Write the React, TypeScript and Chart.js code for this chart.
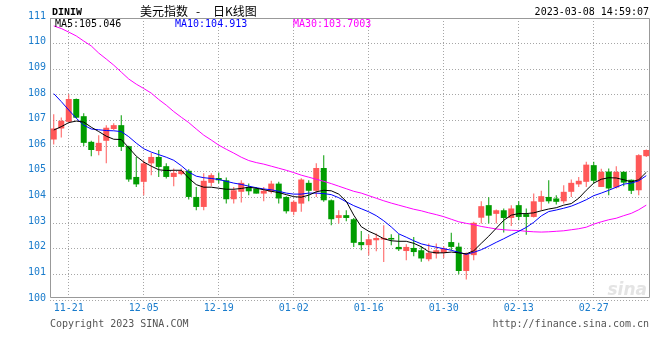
import React, { useEffect, useRef } from 'react';
import { Chart, registerables } from 'chart.js';

Chart.register(...registerables);

// ---- data ----
const dates = [
  '11-17', '11-18', '11-21', '11-22', '11-23', '11-24', '11-25', '11-28', '11-29', '11-30',
  '12-01', '12-02', '12-05', '12-06', '12-07', '12-08', '12-09', '12-12', '12-13', '12-14',
  '12-15', '12-16', '12-19', '12-20', '12-21', '12-22', '12-23', '12-26', '12-27', '12-28',
  '12-29', '12-30', '01-02', '01-03', '01-04', '01-05', '01-06', '01-09', '01-10', '01-11',
  '01-12', '01-13', '01-16', '01-17', '01-18', '01-19', '01-20', '01-23', '01-24', '01-25',
  '01-26', '01-27', '01-30', '01-31', '02-01', '02-02', '02-03', '02-06', '02-07', '02-08',
  '02-09', '02-10', '02-13', '02-14', '02-15', '02-16', '02-17', '02-20', '02-21', '02-22',
  '02-23', '02-24', '02-27', '02-28', '03-01', '03-02', '03-03', '03-06', '03-07', '03-08',
];

const openP = [
  106.26, 106.69, 106.95, 107.84, 107.17, 106.17, 105.81, 106.21, 106.67, 106.82,
  106.00, 104.80, 104.61, 105.33, 105.58, 105.22, 104.80, 104.91, 105.04, 104.02,
  103.63, 104.57, 104.76, 104.67, 103.93, 104.22, 104.41, 104.35, 104.15, 104.22,
  104.54, 104.02, 103.44, 103.76, 104.57, 104.26, 105.15, 103.89, 103.20, 103.31,
  103.15, 102.26, 102.14, 102.33, 102.36, 102.42, 102.07, 101.91, 102.03, 101.94,
  101.59, 101.81, 101.84, 102.26, 102.08, 101.13, 101.75, 103.21, 103.70, 103.36,
  103.50, 103.20, 103.70, 103.35, 103.24, 103.83, 104.02, 103.96, 103.85, 104.22,
  104.51, 104.61, 105.26, 104.41, 105.01, 104.39, 105.00, 104.69, 104.28, 105.61,
];
const highP = [
  107.25, 107.12, 108.03, 107.86, 107.28, 106.21, 106.43, 106.82, 106.89, 107.21,
  106.02, 105.58, 105.45, 105.73, 105.85, 105.33, 105.13, 105.13, 105.10, 104.41,
  104.94, 104.94, 104.97, 104.78, 104.41, 104.67, 104.54, 104.41, 104.41, 104.65,
  104.61, 104.05, 103.89, 104.75, 104.67, 105.33, 105.65, 103.92, 103.50, 103.50,
  103.20, 102.69, 102.55, 102.59, 102.92, 102.56, 102.56, 102.17, 102.46, 102.10,
  102.20, 102.20, 102.10, 102.62, 102.23, 101.85, 103.05, 103.85, 104.01, 103.53,
  103.57, 103.70, 103.85, 103.57, 104.15, 104.26, 104.67, 104.09, 104.48, 104.70,
  104.80, 105.39, 105.39, 105.12, 105.13, 105.22, 105.02, 104.70, 105.69, 105.87,
];
const lowP = [
  106.07, 106.34, 106.93, 107.09, 106.01, 105.61, 105.65, 105.33, 106.63, 105.81,
  104.61, 104.41, 104.09, 104.87, 104.80, 104.74, 104.44, 104.87, 103.92, 103.50,
  103.50, 104.44, 104.54, 103.76, 103.76, 103.80, 104.09, 104.15, 103.85, 104.15,
  103.76, 103.37, 103.31, 103.44, 103.85, 104.02, 103.83, 102.92, 102.98, 103.07,
  102.07, 101.94, 101.75, 101.90, 101.48, 102.14, 101.91, 101.55, 101.71, 101.49,
  101.51, 101.62, 101.64, 101.94, 101.00, 100.80, 101.55, 102.98, 102.98, 102.98,
  102.63, 102.89, 103.11, 102.55, 103.22, 103.50, 103.76, 103.73, 103.76, 104.02,
  104.41, 104.41, 104.54, 104.41, 104.09, 104.35, 104.44, 104.13, 104.09, 105.58,
];
const closeP = [
  106.69, 106.99, 107.84, 107.11, 106.13, 105.85, 106.13, 106.72, 106.82, 105.97,
  104.70, 104.51, 105.33, 105.58, 105.19, 104.80, 104.96, 105.04, 104.02, 103.63,
  104.65, 104.87, 104.67, 103.93, 104.28, 104.57, 104.24, 104.15, 104.26, 104.54,
  103.96, 103.46, 103.83, 104.70, 104.26, 105.15, 103.89, 103.15, 103.31, 103.20,
  102.23, 102.14, 102.37, 102.42, 102.42, 102.36, 101.98, 102.07, 101.87, 101.62,
  101.84, 101.94, 102.01, 102.07, 101.13, 101.82, 103.01, 103.66, 103.29, 103.50,
  103.20, 103.57, 103.24, 103.24, 103.85, 104.05, 103.85, 103.83, 104.22, 104.57,
  104.65, 105.28, 104.65, 105.00, 104.35, 105.00, 104.58, 104.26, 105.65, 105.85,
];

const ma5 = [
  106.63, 106.76, 106.92, 106.98, 106.94, 106.74, 106.57, 106.39, 106.27, 106.26,
  105.94, 105.61, 105.38, 105.22, 105.08, 105.05, 105.06, 105.06, 104.75, 104.50,
  104.40, 104.40, 104.36, 104.32, 104.32, 104.35, 104.40, 104.36, 104.30, 104.24,
  104.19, 104.11, 104.03, 104.01, 104.09, 104.22, 104.28, 104.26, 104.13, 103.85,
  103.31, 102.86, 102.68, 102.55, 102.39, 102.31, 102.29, 102.29, 102.21, 102.08,
  101.88, 101.84, 101.84, 101.87, 101.84, 101.80, 101.92, 102.21, 102.49, 102.80,
  103.11, 103.31, 103.37, 103.37, 103.40, 103.48, 103.55, 103.60, 103.70, 103.76,
  103.97, 104.28, 104.56, 104.71, 104.77, 104.76, 104.69, 104.61, 104.69, 104.98,
];
const ma10 = [
  108.05, 107.74, 107.41, 107.09, 106.82, 106.67, 106.64, 106.61, 106.60, 106.57,
  106.37, 106.12, 105.90, 105.77, 105.67, 105.57, 105.45, 105.24, 104.99, 104.83,
  104.77, 104.74, 104.70, 104.63, 104.56, 104.51, 104.44, 104.38, 104.33, 104.30,
  104.24, 104.17, 104.13, 104.13, 104.17, 104.17, 104.15, 104.11, 103.99, 103.83,
  103.68, 103.56, 103.44, 103.29, 103.09, 102.85, 102.58, 102.45, 102.31, 102.19,
  102.12, 102.06, 102.00, 101.94, 101.86, 101.78, 101.86, 101.96, 102.10, 102.25,
  102.39, 102.54, 102.68, 102.83, 103.03, 103.28, 103.45, 103.51, 103.58, 103.66,
  103.78, 103.91, 104.07, 104.17, 104.28, 104.40, 104.52, 104.56, 104.65, 104.85,
];
const ma30 = [
  110.69, 110.59, 110.45, 110.30, 110.10, 109.91, 109.63, 109.40, 109.16, 108.89,
  108.62, 108.42, 108.25, 108.07, 107.82, 107.60, 107.35, 107.13, 106.92, 106.67,
  106.43, 106.24, 106.04, 105.88, 105.73, 105.57, 105.44, 105.36, 105.30, 105.22,
  105.14, 105.06, 104.97, 104.87, 104.79, 104.71, 104.63, 104.54, 104.44, 104.34,
  104.24, 104.17, 104.07, 103.97, 103.87, 103.78, 103.70, 103.62, 103.54, 103.48,
  103.40, 103.33, 103.25, 103.15, 103.05, 102.99, 102.94, 102.87, 102.82, 102.77,
  102.74, 102.72, 102.71, 102.68, 102.66, 102.65, 102.66, 102.68, 102.70, 102.74,
  102.78, 102.84, 102.96, 103.05, 103.13, 103.19, 103.29, 103.38, 103.52, 103.70,
];

const tickDates = ['11-21', '12-05', '12-19', '01-02', '01-16', '01-30', '02-13', '02-27'];
const yMin = 100;
const yMax = 111;

const symbolText = 'DINIW';
const titleParts = ['美元指数', '-', '日K线图'];
const timeText = '2023-03-08 14:59:07';
const maLabels = ['MA5:105.046', 'MA10:104.913', 'MA30:103.7003'];
const copyrightText = 'Copyright 2023 SINA.COM';
const urlText = 'http://finance.sina.com.cn';

// ---- styles ----
const UP = '#ff5858';
const DOWN = '#009c00';
const AXIS_TXT = '#1a7ccc';
const GRID = '#a6a6a6';
const FRAME = '#999999';
const MA_COLORS = ['#000000', '#0000ff', '#ff00ff'];
const MONO = '"DejaVu Sans Mono", "Liberation Mono", monospace';

const candleColors = closeP.map((c, i) => (c >= openP[i] ? UP : DOWN));

const framePlugin = {
  id: 'sinaFrame',
  beforeDatasetsDraw(chart: any) {
    const { ctx, chartArea } = chart;
    const { left, right, top, bottom } = chartArea;
    ctx.save();
    // watermark
    ctx.font = 'italic bold 17px "DejaVu Sans", sans-serif';
    ctx.fillStyle = '#e4e4e4';
    ctx.textAlign = 'right';
    ctx.textBaseline = 'alphabetic';
    ctx.fillText('sina', right - 3, bottom - 5);
    // frame
    ctx.strokeStyle = FRAME;
    ctx.lineWidth = 1;
    const b = bottom - 3;
    ctx.beginPath();
    ctx.moveTo(left + 0.5, b + 0.5);
    ctx.lineTo(left + 0.5, top + 0.5);
    ctx.lineTo(right - 0.5, top + 0.5);
    ctx.lineTo(right - 0.5, b + 0.5);
    ctx.lineTo(left + 0.5, b + 0.5);
    ctx.stroke();
    ctx.restore();
  },
  afterDraw(chart: any) {
    const { ctx, chartArea } = chart;
    const { left, right } = chartArea;
    ctx.save();
    ctx.textBaseline = 'alphabetic';
    ctx.textAlign = 'left';
    ctx.fillStyle = '#000';
    ctx.font = 'bold 10px "Liberation Mono", monospace';
    ctx.fillText(symbolText, 52, 15);
    ctx.font = '12px "Noto Sans CJK SC", sans-serif';
    ctx.fillText(titleParts[0], 140, 15.5);
    ctx.fillText(titleParts[1], 196, 15.5);
    ctx.fillText(titleParts[2], 213, 15.5);
    ctx.font = '10px ' + MONO;
    ctx.textAlign = 'right';
    ctx.fillText(timeText, right - 1, 15);
    ctx.textAlign = 'left';
    const maX = [55, 175, 293];
    maLabels.forEach((t, i) => {
      ctx.fillStyle = MA_COLORS[i];
      ctx.fillText(t, maX[i], 26.5);
    });
    ctx.fillStyle = '#555';
    ctx.fillText(copyrightText, left, 326.5);
    ctx.textAlign = 'right';
    ctx.fillText(urlText, right - 1, 326.5);
    ctx.restore();
  },
};

export default function App() {
  const ref = useRef<HTMLCanvasElement | null>(null);

  useEffect(() => {
    if (!ref.current) return;
    const lineDs = (label: string, data: number[], color: string, order: number) => ({
      type: 'line' as const,
      label,
      data,
      borderColor: color,
      backgroundColor: color,
      borderWidth: 1,
      pointRadius: 0,
      pointHoverRadius: 0,
      tension: 0,
      fill: false,
      order,
    });
    const chart = new Chart(ref.current, {
      type: 'bar',
      data: {
        labels: dates,
        datasets: [
          lineDs('MA5', ma5, MA_COLORS[0], 0),
          lineDs('MA10', ma10, MA_COLORS[1], 1),
          lineDs('MA30', ma30, MA_COLORS[2], 2),
          {
            type: 'bar',
            label: 'body',
            data: openP.map((o, i) => [o, closeP[i]]),
            backgroundColor: candleColors,
            borderWidth: 0,
            barThickness: 6,
            minBarLength: 1,
            grouped: false,
            inflateAmount: 0,
            order: 3,
          } as any,
          {
            type: 'bar',
            label: 'wick',
            data: lowP.map((l, i) => [l, highP[i]]),
            backgroundColor: candleColors,
            borderWidth: 0,
            barThickness: 1,
            grouped: false,
            inflateAmount: 0,
            order: 4,
          } as any,
        ],
      },
      options: {
        animation: false,
        responsive: false,
        devicePixelRatio: 1,
        layout: { padding: { left: 0, right: 10, top: 18, bottom: 0 } },
        plugins: {
          legend: { display: false },
          tooltip: { enabled: false },
          title: { display: false },
        },
        scales: {
          x: {
            type: 'category',
            offset: true,
            grid: { offset: false, color: GRID, lineWidth: 1, drawTicks: false },
            border: { display: false, dash: [1, 2] },
            ticks: {
              autoSkip: false,
              maxRotation: 0,
              minRotation: 0,
              padding: 2,
              color: AXIS_TXT,
              font: { family: MONO, size: 10 },
            },
            afterBuildTicks: (s: any) => {
              s.ticks = tickDates.map((d) => ({ value: dates.indexOf(d) }));
            },
            afterFit: (s: any) => {
              s.height = 60;
            },
          },
          y: {
            type: 'linear',
            min: yMin,
            max: yMax,
            grid: { color: GRID, lineWidth: 1, drawTicks: false },
            border: { display: false, dash: [1, 2] },
            ticks: {
              stepSize: 1,
              padding: 4,
              labelOffset: -2,
              color: AXIS_TXT,
              font: { family: MONO, size: 10 },
            },
            afterFit: (s: any) => {
              s.width = 50;
            },
          },
        },
      },
      plugins: [framePlugin],
    } as any);
    return () => chart.destroy();
  }, []);

  return (
    <div style={{ position: 'fixed', left: 0, top: 0, width: 660, height: 360, background: '#fff' }}>
      <canvas ref={ref} width={660} height={360} style={{ width: 660, height: 360, display: 'block' }} />
    </div>
  );
}
